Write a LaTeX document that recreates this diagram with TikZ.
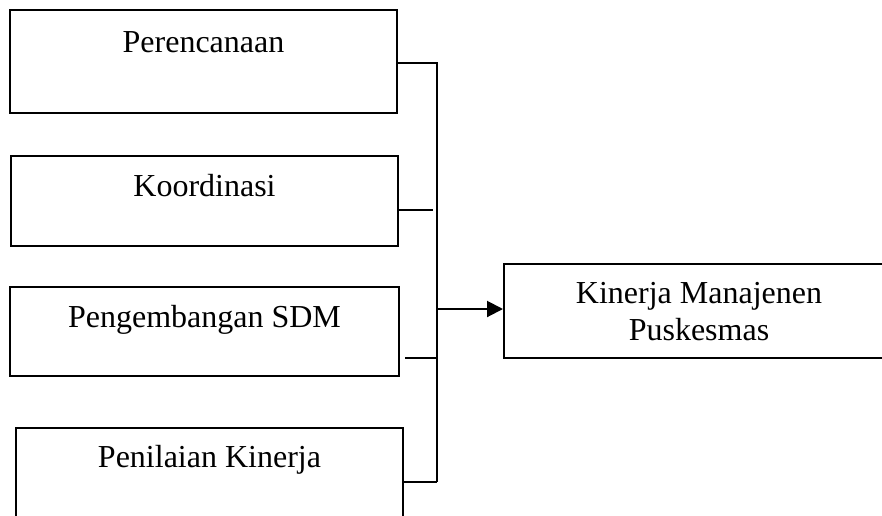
\documentclass[tikz,border=0pt]{standalone}
\usepackage{fontspec}
\setmainfont{Liberation Serif}
\usetikzlibrary{arrows.meta,calc}
\begin{document}
\begin{tikzpicture}[x=1pt,y=-1pt,
  boxline/.style={line width=2pt,draw=black},
  lbl/.style={anchor=base,inner sep=0pt,font=\fontsize{32}{37}\selectfont},
  conn/.style={line width=2pt}]
\useasboundingbox (0,0) rectangle (882,515);
\clip (0,0) rectangle (882,515);
% boxes
\node[boxline,inner sep=0pt,minimum width=387pt,minimum height=103pt] (b1) at (203.5,61.5) {};
\node[boxline,inner sep=0pt,minimum width=387pt,minimum height=90pt] (b2) at (204.5,201) {};
\node[boxline,inner sep=0pt,minimum width=389pt,minimum height=89pt] (b3) at (204.5,331.5) {};
\node[boxline,inner sep=0pt,minimum width=387pt,minimum height=120pt] (b4) at (209.5,488) {};
\node[boxline,inner sep=0pt,minimum width=400pt,minimum height=94pt] (r) at (704,311) {};
% labels
\node[lbl] (t1) at (203.5,52) {Perencanaan};
\node[lbl] (t2) at (204.5,196) {Koordinasi};
\node[lbl] (t3) at (204.5,327) {Pengembangan SDM};
\node[lbl] (t4) at (209.5,467) {Penilaian Kinerja};
\node[lbl] (t5) at (699,303) {Kinerja Manajenen};
\node[lbl] (t6) at (699,340) {Puskesmas};
% connector points
\coordinate (top) at (437,63);
\coordinate (bot) at (437,482);
\coordinate (j2) at (433,210);
\coordinate (j3) at (437,358);
\coordinate (j4) at (437,482);
\coordinate (ja) at (437,309);
\draw[conn] (b1.east |- top) -- (top) -- (bot);
\draw[conn] (b2.east |- j2) -- (j2);
\draw[conn] ($(b3.east |- j3)+(5,0)$) -- (j3);
\draw[conn] ($(b4.east |- j4)+(-2,0)$) -- (j4);
\draw[conn,-{Triangle[length=16pt,width=16pt]}] (ja) -- (r.west |- ja);
\end{tikzpicture}
\end{document}
